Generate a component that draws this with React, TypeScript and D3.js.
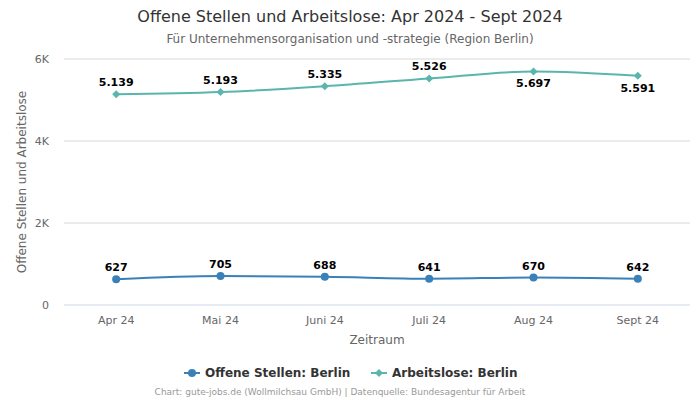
import React from "react";
import * as d3 from "d3";

const categories = ["Apr 24", "Mai 24", "Juni 24", "Juli 24", "Aug 24", "Sept 24"];
const offeneStellen = [627, 705, 688, 641, 670, 642];
const arbeitslose = [5139, 5193, 5335, 5526, 5697, 5591];
const arbeitsloseLabelBelow = [false, false, false, false, true, true];
const yTicks = [0, 2000, 4000, 6000];
const yTickLabels = ["0", "2K", "4K", "6K"];

const W = 700, H = 400;
const left = 64, right = 690, top = 59, bottom = 305;
const font = "DejaVu Sans, sans-serif";
const fmt = (v: number) => d3.format(",")(v).replace(/,/g, ".");

export default function App() {
  const x = d3.scaleBand<string>().domain(categories).range([left, right]);
  const y = d3.scaleLinear().domain([0, 6000]).range([bottom, top]);
  const cx = (i: number) => (x(categories[i]) as number) + x.bandwidth() / 2;
  const line = d3.line<number>().x((_, i) => cx(i)).y((d) => y(d)).curve(d3.curveMonotoneX);
  const c1 = "#3a80b9";
  const c2 = "#5ab5ad";
  const diamond = (px: number, py: number, s: number) =>
    `M${px},${py - s}L${px + s},${py}L${px},${py + s}L${px - s},${py}Z`;
  return (
    <svg width={W} height={H} style={{ position: "absolute", left: 0, top: 0, fontFamily: font }}>
      <rect width={W} height={H} fill="#fff" />
      <text x={350} y={22} textAnchor="middle" fontSize={16} fill="#333">
        Offene Stellen und Arbeitslose: Apr 2024 - Sept 2024
      </text>
      <text x={350} y={43} textAnchor="middle" fontSize={12} fill="#666">
        Für Unternehmensorganisation und -strategie (Region Berlin)
      </text>
      {yTicks.map((t, i) => (
        <g key={t}>
          <line x1={left} x2={right} y1={y(t)} y2={y(t)} stroke={i === 0 ? "#ccd6eb" : "#d8d8d8"} strokeWidth={1} />
          <text x={49} y={y(t) + 4} textAnchor="end" fontSize={11} fill="#666">{yTickLabels[i]}</text>
        </g>
      ))}
      {categories.map((c, i) => (
        <text key={c} x={cx(i)} y={324} textAnchor="middle" fontSize={11} fill="#666">{c}</text>
      ))}
      <text x={377} y={344} textAnchor="middle" fontSize={12} fill="#666">Zeitraum</text>
      <text transform={`translate(26,${(top + bottom) / 2}) rotate(-90)`} textAnchor="middle" fontSize={12} fill="#666">
        Offene Stellen und Arbeitslose
      </text>
      <path d={line(arbeitslose) || ""} fill="none" stroke={c2} strokeWidth={2} />
      {arbeitslose.map((v, i) => (
        <g key={i}>
          <path d={diamond(cx(i), y(v), 4)} fill={c2} />
          <text x={cx(i)} y={arbeitsloseLabelBelow[i] ? y(v) + 16 : y(v) - 8} textAnchor="middle" fontSize={11} fontWeight="bold" fill="#000">
            {fmt(v)}
          </text>
        </g>
      ))}
      <path d={line(offeneStellen) || ""} fill="none" stroke={c1} strokeWidth={2} />
      {offeneStellen.map((v, i) => (
        <g key={i}>
          <circle cx={cx(i)} cy={y(v)} r={4} fill={c1} />
          <text x={cx(i)} y={y(v) - 8} textAnchor="middle" fontSize={11} fontWeight="bold" fill="#000">
            {fmt(v)}
          </text>
        </g>
      ))}
      <g>
        <line x1={184} x2={200} y1={373} y2={373} stroke={c1} strokeWidth={2} />
        <circle cx={192} cy={373} r={4} fill={c1} />
        <text x={205} y={377} fontSize={12} fontWeight="bold" fill="#333">Offene Stellen: Berlin</text>
        <line x1={371} x2={387} y1={373} y2={373} stroke={c2} strokeWidth={2} />
        <path d={diamond(379, 373, 4)} fill={c2} />
        <text x={392} y={377} fontSize={12} fontWeight="bold" fill="#333">Arbeitslose: Berlin</text>
      </g>
      <text x={340} y={395} textAnchor="middle" fontSize={9} fill="#999">
        Chart: gute-jobs.de (Wollmilchsau GmbH) | Datenquelle: Bundesagentur für Arbeit
      </text>
    </svg>
  );
}
